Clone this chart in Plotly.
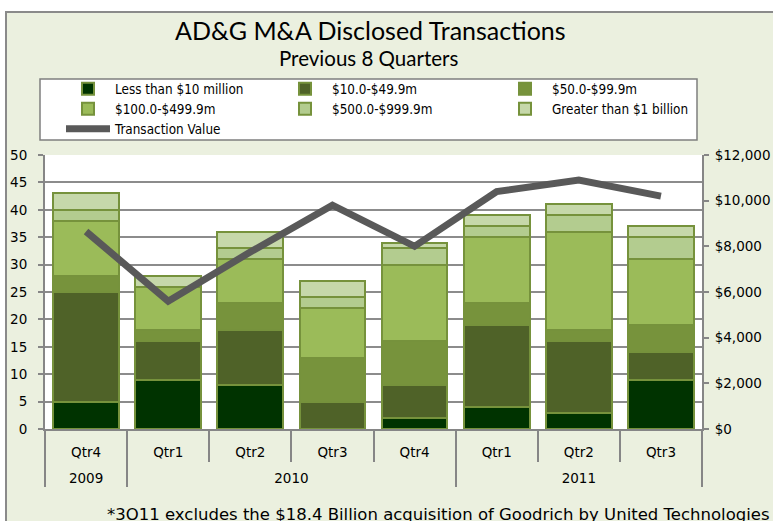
import plotly.graph_objects as go

years = ["2009", "2010", "2010", "2010", "2010", "2011", "2011", "2011"]
quarters = ["Qtr4", "Qtr1", "Qtr2", "Qtr3", "Qtr4", "Qtr1", "Qtr2", "Qtr3"]

series_names = ["Less than $10 million", "$10.0-$49.9m", "$50.0-$99.9m",
                "$100.0-$499.9m", "$500.0-$999.9m", "Greater than $1 billion"]
lt10 = [5, 9, 8, 0, 2, 4, 3, 9]
m10_49 = [20, 7, 10, 5, 6, 15, 13, 5]
m50_99 = [3, 2, 5, 8, 8, 4, 2, 5]
m100_499 = [10, 8, 8, 9, 14, 12, 18, 12]
m500_999 = [2, 0, 2, 2, 3, 2, 3, 4]
gt1b = [3, 2, 3, 3, 1, 2, 2, 2]
transaction_value = [8650, 5600, 7750, 9800, 8000, 10400, 10900, 10200]

series_values = [lt10, m10_49, m50_99, m100_499, m500_999, gt1b]
colors = ["#003300", "#4F6228", "#77933C", "#9BBB59", "#B3CC8F", "#C6D8AA"]

# Plotly orders inner multicategory labels by first appearance across the
# whole axis; the lone 2009 "Qtr4" would otherwise be sorted ahead of 2010's
# Qtr1..Qtr3, so it gets a distinct (visually identical) key.  The blank
# second line gives the quarter row the same depth as in the reference.
inner = [(q + "<br>\u00a0\u200b") if (y == "2009") else (q + "<br>\u00a0")
         for y, q in zip(years, quarters)]
xcat = [years, inner]

GRAY = "#868686"
TICK_FONT = dict(family="DejaVu Sans", size=13.5, color="#000000")
LEG_FONT = dict(family="DejaVu Sans Condensed, Roboto, sans-serif", size=13.4, color="#000000")

# pixel geometry helpers (plot area: x 45..702, y 155..429)
L, R, T, B = 45, 702, 155, 429
def px_x(p):
    return (p - L) / (R - L)
def px_y(p):
    return (B - p) / (B - T)

# legend slots: (text-left x px, row y px)
ITEMW = 44
slots = [(116, 89), (333, 89), (553, 89),
         (116, 109), (333, 109), (553, 109),
         (116, 129)]
legend_ids = ["legend"] + ["legend%d" % i for i in range(2, 8)]

fig = go.Figure()
for i, (name, vals, col) in enumerate(zip(series_names, series_values, colors)):
    fig.add_bar(x=xcat, y=vals, name=name, legend=legend_ids[i],
                marker=dict(color=col, line=dict(color="#76923C", width=2)))

fig.add_scatter(x=xcat, y=transaction_value, name="Transaction Value",
                mode="lines", yaxis="y2", legend=legend_ids[6],
                line=dict(color="#595959", width=7))

shapes = [
    # chart frame
    dict(type="rect", xref="paper", yref="paper", layer="below",
         x0=px_x(6), x1=px_x(790), y0=px_y(540), y1=px_y(12),
         fillcolor="#EBF0DF", line=dict(color="#8A8A8A", width=2)),
    # plot area
    dict(type="rect", xref="paper", yref="paper", layer="below",
         x0=0, x1=1, y0=0, y1=1, fillcolor="#FFFFFF", line=dict(width=0)),
    # legend box
    dict(type="rect", xref="paper", yref="paper", layer="below",
         x0=px_x(40), x1=px_x(697), y0=px_y(140), y1=px_y(79),
         fillcolor="#FFFFFF", line=dict(color="#7F7F7F", width=1.5)),
]

legends = {}
for lid, (tx, ty) in zip(legend_ids, slots):
    legends[lid] = dict(x=px_x(tx - (ITEMW + 11)), y=px_y(ty),
                        xanchor="left", yanchor="middle", orientation="h",
                        bgcolor="rgba(0,0,0,0)", borderwidth=0, font=LEG_FONT,
                        itemwidth=ITEMW)

fig.update_layout(
    width=773, height=521,
    margin=dict(l=L, r=773 - R, t=T, b=521 - B, autoexpand=False),
    paper_bgcolor="#FFFFFF", plot_bgcolor="rgba(0,0,0,0)",
    barmode="stack", bargap=0.2,
    showlegend=True,
    shapes=shapes,
    xaxis=dict(type="multicategory", tickson="boundaries", ticks="outside",
               ticklen=31, tickcolor=GRAY, tickwidth=2,
               showline=True, linecolor=GRAY, linewidth=2,
               showdividers=True, dividercolor=GRAY, dividerwidth=2,
               tickfont=TICK_FONT, showgrid=False, ticklabelstandoff=10),
    yaxis=dict(range=[0, 50], dtick=5, showgrid=True, gridcolor="#8C8C8C", gridwidth=1.5,
               showline=True, linecolor=GRAY, linewidth=2, ticks="outside",
               ticklen=5, tickcolor=GRAY, tickwidth=2, zeroline=False,
               tickfont=TICK_FONT, ticklabelstandoff=8),
    yaxis2=dict(range=[0, 12000], dtick=2000, overlaying="y", side="right",
                showgrid=False, showline=True, linecolor=GRAY, linewidth=2,
                ticks="outside", ticklen=5, tickcolor=GRAY, tickwidth=2,
                tickprefix="$", tickformat=",d", zeroline=False,
                tickfont=TICK_FONT, ticklabelstandoff=3),
    annotations=[
        dict(text="AD&G M&A Disclosed Transactions", xref="paper", yref="paper",
             x=px_x(370), y=px_y(30), xanchor="center", yanchor="middle",
             showarrow=False, font=dict(family="Lato", size=25, color="#000000")),
        dict(text="Previous 8 Quarters", xref="paper", yref="paper",
             x=px_x(368), y=px_y(58), xanchor="center", yanchor="middle",
             showarrow=False, font=dict(family="Lato", size=20.5, color="#000000")),
        dict(text="*3O11 excludes the $18.4 Billion acquisition of Goodrich by United Technologies",
             xref="paper", yref="paper", x=px_x(438), y=px_y(514),
             xanchor="center", yanchor="middle", showarrow=False,
             font=dict(family="DejaVu Sans", size=16.5, color="#000000")),
    ],
    **legends,
)

fig.write_html("out.html", config={"displayModeBar": False},
               post_script="document.body.style.margin='0px';")
